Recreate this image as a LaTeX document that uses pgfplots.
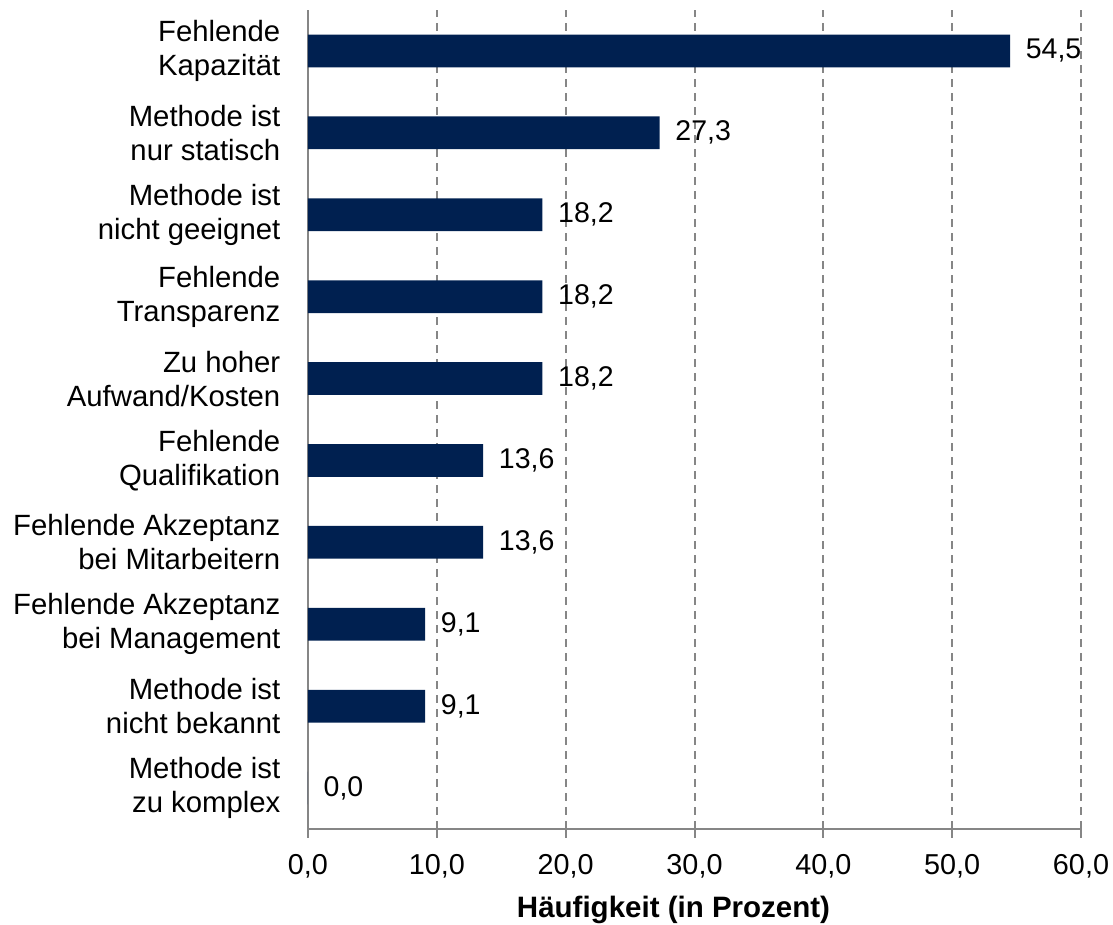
\documentclass[border=0pt]{standalone}
\usepackage{fontspec}
\setmainfont{Liberation Sans}
\usepackage{pgfplots}
\pgfplotsset{compat=1.18}
\definecolor{barblue}{RGB}{0,32,80}
\definecolor{axgray}{RGB}{134,134,134}
\begin{document}
\fontsize{28.5}{34}\selectfont
\begin{tikzpicture}
\begin{axis}[
  scale only axis,
  width=773pt, height=819pt,
  xbar, bar width=0.4,
  xmin=0, xmax=60,
  ymin=-0.5, ymax=9.5,
  axis lines*=left,
  axis line style={-, axgray, line width=2pt},
  xtick={0,10,...,60},
  xticklabel style={font=\fontsize{28.8}{34}\selectfont, yshift=-7pt, /pgf/number format/.cd, fixed, fixed zerofill, precision=1, use comma, assume math mode=true},
  ytick={0,...,9},
  yticklabels={{Methode ist\\zu komplex},{Methode ist\\nicht bekannt},{Fehlende Akzeptanz\\bei Management},{Fehlende Akzeptanz\\bei Mitarbeitern},{Fehlende\\Qualifikation},{Zu hoher\\Aufwand/Kosten},{Fehlende\\Transparenz},{Methode ist\\nicht geeignet},{Methode ist\\nur statisch},{Fehlende\\Kapazität}},
  yticklabel style={align=right, font=\fontsize{29.3}{34}\selectfont, xshift=-9pt},
  major tick length=9pt,
  minor tick length=9pt,
  tick align=outside,
  ytick style={draw=none},
  minor ytick={-0.5,0.5,...,9.5},
  minor tick style={axgray, line width=2pt},
  xtick style={axgray, line width=2pt},
  xmajorgrids,
  major grid style={axgray, line width=2pt, dash pattern=on 8pt off 6pt},
  xlabel={\textbf{Häufigkeit (in Prozent)}},
  xlabel style={font=\fontsize{29.5}{34}\selectfont, xshift=-21pt, yshift=2pt},
  nodes near coords,
  nodes near coords style={font=\fontsize{28.5}{34}\selectfont, xshift=6pt, /pgf/number format/.cd, fixed, fixed zerofill, precision=1, use comma, assume math mode=true},
  clip=false,
]
\addplot[fill=barblue, draw=none] coordinates {
(0.0,0) (9.1,1) (9.1,2) (13.6,3) (13.6,4) (18.2,5) (18.2,6) (18.2,7) (27.3,8) (54.5,9)
};
\coordinate (tl) at (rel axis cs:0,1);
\coordinate (br) at (rel axis cs:1,0);
\end{axis}
\pgfresetboundingbox
\path (tl) ++(-308pt,10pt);
\path (br) ++(32pt,-96pt);
\end{tikzpicture}
\end{document}
